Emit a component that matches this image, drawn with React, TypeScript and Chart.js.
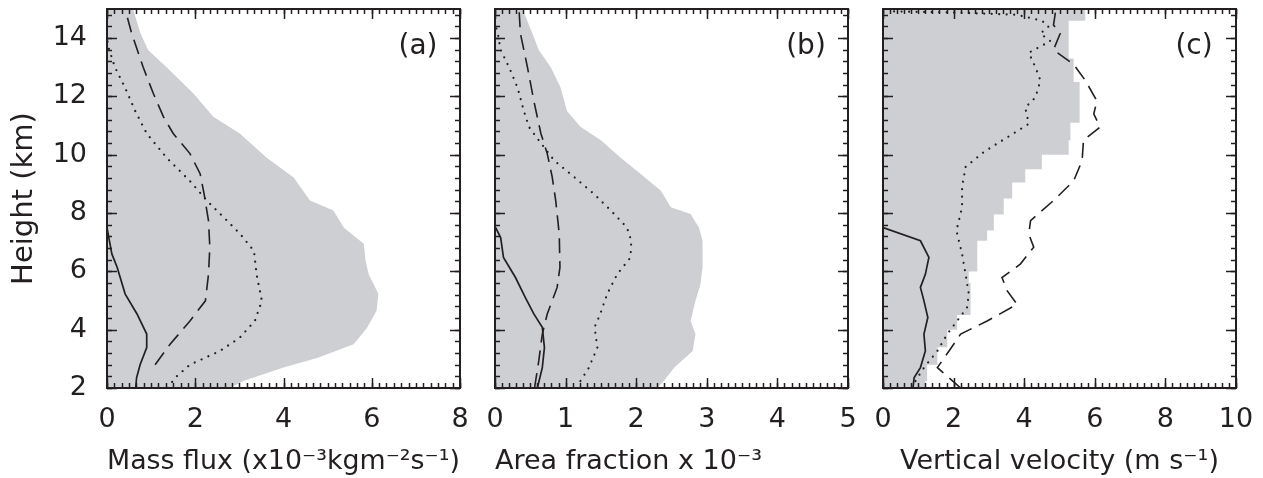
import React, { useEffect, useRef } from "react";
import { Chart, registerables } from "chart.js";

Chart.register(...registerables);

const FONT = "'DejaVu Sans', sans-serif";
const WEIGHT = "normal";
const INK = "#231f20";
const SHADE = "#cdcfd2";

// ---------- shared y axis ----------
const heightMin = 2;
const heightMax = 15;
const heightTicks = [2, 4, 6, 8, 10, 12, 14];
const heightMinorStep = 0.4;

// ---------- panel (a) mass flux ----------
const aShadeH = [2.0, 2.24, 2.7, 3.03, 3.5, 4.06, 4.65, 5.23, 5.9, 6.37, 6.95, 7.5, 8.09, 8.43, 9.22, 9.9, 10.73, 11.3, 12.1, 13.0, 13.59, 14.2, 15];
const aShadeX = [2.79, 3.09, 4.0, 4.76, 5.59, 5.89, 6.11, 6.15, 5.93, 5.86, 5.82, 5.37, 5.13, 4.6, 4.23, 3.62, 3.01, 2.41, 1.96, 1.35, 0.93, 0.75, 0.59];
const aDashH = [2.8, 3.5, 4.3, 4.99, 5.9, 6.83, 7.74, 8.66, 9.35, 10.04, 10.73, 11.3, 12.1, 13.0, 14.16, 15];
const aDashX = [1.09, 1.43, 1.88, 2.23, 2.3, 2.33, 2.3, 2.2, 2.11, 1.88, 1.5, 1.28, 1.05, 0.82, 0.56, 0.41];
const aDotH = [2.0, 2.35, 2.8, 3.27, 3.73, 4.3, 4.99, 5.9, 6.7, 7.28, 7.74, 8.43, 9.1, 9.9, 10.73, 11.5, 12.3, 13.0, 13.7, 14.0];
const aDotX = [1.38, 1.54, 1.88, 2.56, 3.01, 3.35, 3.51, 3.39, 3.33, 3.02, 2.72, 2.26, 1.88, 1.35, 0.9, 0.64, 0.41, 0.18, 0.03, 0];
const aSolidH = [2.0, 2.35, 2.8, 3.39, 3.85, 4.54, 5.23, 6.14, 6.6, 7.5];
const aSolidX = [0.65, 0.67, 0.75, 0.9, 0.9, 0.68, 0.41, 0.23, 0.11, 0];
const aTicks = [0, 2, 4, 6, 8];

// ---------- panel (b) area fraction ----------
const bShadeH = [2.0, 2.24, 2.7, 3.27, 3.85, 4.3, 4.99, 5.56, 6.14, 7.05, 7.5, 7.97, 8.2, 8.77, 9.35, 9.9, 10.5, 10.96, 11.5, 12.3, 13.0, 13.59, 14.16, 15];
const bShadeX = [2.3, 2.39, 2.54, 2.8, 2.84, 2.77, 2.84, 2.91, 2.94, 2.94, 2.89, 2.77, 2.49, 2.35, 2.06, 1.78, 1.5, 1.21, 1.02, 0.93, 0.79, 0.62, 0.53, 0.39];
const bDashH = [2.0, 2.93, 3.85, 4.54, 5.45, 6.14, 7.28, 8.43, 9.24, 10.04, 10.73, 11.85, 13.0, 14.16, 15];
const bDashX = [0.56, 0.62, 0.67, 0.74, 0.88, 0.92, 0.91, 0.86, 0.81, 0.74, 0.65, 0.55, 0.46, 0.36, 0.34];
const bDotH = [2.24, 2.7, 3.39, 4.08, 4.54, 5.23, 5.9, 6.48, 7.05, 7.5, 8.09, 8.66, 9.24, 9.8, 10.4, 10.96, 11.5, 12.3, 13.0, 13.6, 14.16, 14.5];
const bDotX = [1.21, 1.33, 1.45, 1.41, 1.49, 1.59, 1.73, 1.92, 1.93, 1.87, 1.64, 1.4, 1.12, 0.84, 0.65, 0.48, 0.41, 0.32, 0.2, 0.08, 0.04, 0];
const bSolidH = [2.0, 2.7, 3.39, 4.08, 4.54, 5.1, 5.79, 6.48, 7.16, 7.5];
const bSolidX = [0.6, 0.67, 0.7, 0.67, 0.55, 0.43, 0.29, 0.12, 0.08, 0.01];
const bTicks = [0, 1, 2, 3, 4, 5];

// ---------- panel (c) vertical velocity ----------
const cShadeH = [2.0, 2.24, 2.8, 3.4, 4.0, 4.5, 5.6, 6.0, 7.05, 7.4, 7.95, 8.5, 9.05, 9.5, 10.0, 10.5, 11.1, 12.5, 13.3, 14.6, 15];
const cShadeX = [1.2, 1.25, 1.54, 1.82, 2.1, 2.48, 2.43, 2.67, 2.95, 3.14, 3.42, 3.66, 4.03, 4.5, 5.26, 5.31, 5.57, 5.4, 5.26, 5.73, 5.73];
const cDashH = [2.0, 2.35, 2.7, 3.27, 3.85, 4.3, 4.87, 5.33, 5.79, 6.25, 6.83, 7.28, 7.74, 8.43, 9.1, 9.8, 10.5, 10.95, 11.4, 11.85, 12.55, 13.1, 13.6, 14.16, 14.45, 15];
const cDashX = [2.2, 1.87, 1.54, 1.87, 2.2, 2.95, 3.8, 3.52, 3.37, 3.89, 4.27, 4.13, 4.18, 4.83, 5.4, 5.64, 5.68, 6.15, 5.97, 6.06, 5.73, 5.4, 4.83, 5.02, 4.83, 4.9];
const cDotH = [2.24, 2.7, 3.27, 3.85, 4.3, 4.76, 5.23, 5.9, 6.6, 7.4, 8.2, 8.9, 9.58, 10.1, 10.6, 11.06, 11.62, 11.97, 12.55, 13.0, 13.5, 13.9, 14.16, 14.4, 14.6, 14.8, 14.88, 14.92];
const cDotX = [0.92, 1.16, 1.54, 1.82, 2.1, 2.38, 2.43, 2.34, 2.24, 2.08, 2.24, 2.24, 2.34, 2.86, 3.52, 4.13, 4.03, 4.32, 4.46, 4.32, 4.13, 4.74, 4.46, 4.69, 4.5, 3.8, 2.0, 0.2];
const cSolidH = [2.0, 2.35, 2.7, 3.27, 3.85, 4.42, 4.99, 5.45, 5.9, 6.48, 7.05, 7.5];
const cSolidX = [0.85, 0.88, 1.06, 1.2, 1.16, 1.27, 1.16, 1.06, 1.2, 1.3, 1.06, 0];
const cTicks = [0, 2, 4, 6, 8, 10];

type Align = "start" | "center" | "end";
type PanelSpec = {
  label: string;
  xTicks: number[];
  xMinor: number;
  xTitle: string;
  titleAlign: Align;
  showY: boolean;
  left: number;
  width: number;
  padLeft: number;
  padRight: number;
  shadeH: number[];
  shadeX: number[];
  shadeStepped: boolean;
  dashH: number[];
  dashX: number[];
  dotH: number[];
  dotX: number[];
  solidH: number[];
  solidX: number[];
};

const PANELS: PanelSpec[] = [
  {
    label: "(a)", xTicks: aTicks, xMinor: 2 / 12, xTitle: "Mass flux (x10⁻³kgm⁻²s⁻¹)", titleAlign: "center",
    showY: true, left: 0, width: 478, padLeft: 0, padRight: 18,
    shadeH: aShadeH, shadeX: aShadeX, shadeStepped: false,
    dashH: aDashH, dashX: aDashX, dotH: aDotH, dotX: aDotX, solidH: aSolidH, solidX: aSolidX,
  },
  {
    label: "(b)", xTicks: bTicks, xMinor: 0.1, xTitle: "Area fraction x 10⁻³", titleAlign: "start",
    showY: false, left: 478, width: 387, padLeft: 17, padRight: 17,
    shadeH: bShadeH, shadeX: bShadeX, shadeStepped: false,
    dashH: bDashH, dashX: bDashX, dotH: bDotH, dotX: bDotX, solidH: bSolidH, solidX: bSolidX,
  },
  {
    label: "(c)", xTicks: cTicks, xMinor: 0.2, xTitle: "Vertical velocity (m s⁻¹)", titleAlign: "center",
    showY: false, left: 865, width: 398, padLeft: 18, padRight: 27,
    shadeH: cShadeH, shadeX: cShadeX, shadeStepped: true,
    dashH: cDashH, dashX: cDashX, dotH: cDotH, dotX: cDotX, solidH: cSolidH, solidX: cSolidX,
  },
];

const pts = (h: number[], x: number[]) => h.map((hv, i) => ({ x: x[i], y: hv }));

const frameTicks = {
  id: "frameTicks",
  afterDatasetsDraw(chart: any, _args: any, opts: any) {
    const { ctx, chartArea, scales } = chart;
    const { left, right, top, bottom } = chartArea;
    const xs = scales.x;
    const ys = scales.y;
    const line = (x1: number, y1: number, x2: number, y2: number) => {
      ctx.beginPath();
      ctx.moveTo(x1, y1);
      ctx.lineTo(x2, y2);
      ctx.stroke();
    };
    ctx.save();
    ctx.strokeStyle = INK;
    ctx.lineWidth = 1.5;
    const xMin = opts.xTicks[0];
    const xMax = opts.xTicks[opts.xTicks.length - 1];
    const nx = Math.floor((xMax - xMin) / opts.xMinor + 1e-6);
    for (let i = 0; i <= nx; i++) {
      const px = Math.round(xs.getPixelForValue(xMin + i * opts.xMinor)) + 0.5;
      line(px, bottom, px, bottom - 5);
      line(px, top, px, top + 5);
    }
    for (const v of opts.xTicks) {
      const px = Math.round(xs.getPixelForValue(v)) + 0.5;
      line(px, bottom, px, bottom - 10);
      line(px, top, px, top + 10);
    }
    const ny = Math.floor((heightMax - heightMin) / heightMinorStep + 1e-6);
    for (let i = 0; i <= ny; i++) {
      const py = Math.round(ys.getPixelForValue(heightMin + i * heightMinorStep)) + 0.5;
      line(left, py, left + 5, py);
      line(right, py, right - 5, py);
    }
    for (const v of heightTicks) {
      const py = Math.round(ys.getPixelForValue(v)) + 0.5;
      line(left, py, left + 10, py);
      line(right, py, right - 10, py);
    }
    ctx.lineWidth = 2;
    ctx.strokeRect(left, top, right - left, bottom - top);
    ctx.fillStyle = INK;
    ctx.font = `${WEIGHT} 28px ${FONT}`;
    ctx.textAlign = "center";
    ctx.textBaseline = "middle";
    ctx.fillText(opts.label, right - 42, top + 38);
    ctx.restore();
  },
};

function Panel({ spec }: { spec: PanelSpec }) {
  const ref = useRef<HTMLCanvasElement | null>(null);
  useEffect(() => {
    if (!ref.current) return;
    const tickFont = { family: FONT, size: 27, weight: WEIGHT };
    const chart = new Chart(ref.current, {
      type: "line",
      data: {
        datasets: [
          {
            data: pts(spec.shadeH, spec.shadeX),
            borderWidth: 0,
            borderColor: "rgba(0,0,0,0)",
            backgroundColor: SHADE,
            fill: "origin",
            pointRadius: 0,
            stepped: spec.shadeStepped ? "after" : false,
            order: 4,
          },
          {
            data: pts(spec.dotH, spec.dotX),
            borderColor: INK,
            borderWidth: 2.2,
            borderDash: [0.01, 7.5],
            borderCapStyle: "round",
            pointRadius: 0,
            fill: false,
            order: 3,
          },
          {
            data: pts(spec.dashH, spec.dashX),
            borderColor: INK,
            borderWidth: 1.6,
            borderDash: [15, 8],
            pointRadius: 0,
            fill: false,
            order: 2,
          },
          {
            data: pts(spec.solidH, spec.solidX),
            borderColor: INK,
            borderWidth: 1.7,
            pointRadius: 0,
            fill: false,
            order: 1,
          },
        ],
      } as any,
      options: {
        indexAxis: "y",
        responsive: false,
        animation: false,
        events: [],
        layout: { padding: { left: spec.padLeft, right: spec.padRight, top: 9, bottom: 0 } },
        plugins: {
          legend: { display: false },
          tooltip: { enabled: false },
          frameTicks: { xTicks: spec.xTicks, xMinor: spec.xMinor, label: spec.label },
        } as any,
        scales: {
          x: {
            type: "linear",
            position: "bottom",
            min: spec.xTicks[0],
            max: spec.xTicks[spec.xTicks.length - 1],
            afterBuildTicks: (s: any) => {
              s.ticks = spec.xTicks.map((v) => ({ value: v }));
            },
            ticks: { font: tickFont, color: INK, padding: 8, maxRotation: 0, autoSkip: false },
            grid: { display: false },
            border: { display: false },
            title: {
              display: true,
              text: spec.xTitle,
              align: spec.titleAlign,
              font: { family: FONT, size: 27, weight: WEIGHT },
              color: INK,
              padding: { top: 0, bottom: 0 },
            },
            afterFit: (s: any) => {
              s.height = 90;
              s.paddingLeft = 0;
              s.paddingRight = 0;
            },
          },
          y: {
            type: "linear",
            position: "left",
            display: spec.showY,
            min: heightMin,
            max: heightMax,
            afterBuildTicks: (s: any) => {
              s.ticks = heightTicks.map((v) => ({ value: v }));
            },
            ticks: { font: tickFont, color: INK, padding: 12, autoSkip: false },
            grid: { display: false },
            border: { display: false },
            title: {
              display: true,
              text: "Height (km)",
              font: { family: FONT, size: 29, weight: WEIGHT },
              color: INK,
              padding: { top: 7, bottom: 0 },
            },
            afterFit: (s: any) => {
              s.width = spec.showY ? 107 : 0;
              s.paddingTop = 0;
              s.paddingBottom = 0;
            },
          },
        },
      } as any,
      plugins: [frameTicks as any],
    });
    return () => chart.destroy();
  }, [spec]);
  return (
    <canvas
      ref={ref}
      width={spec.width}
      height={478}
      style={{ position: "absolute", left: spec.left, top: 0, width: spec.width, height: 478 }}
    />
  );
}

export default function App() {
  return (
    <div style={{ position: "fixed", left: 0, top: 0, width: 1263, height: 478, background: "#fff", overflow: "hidden" }}>
      {PANELS.map((p) => (
        <Panel key={p.label} spec={p} />
      ))}
    </div>
  );
}
